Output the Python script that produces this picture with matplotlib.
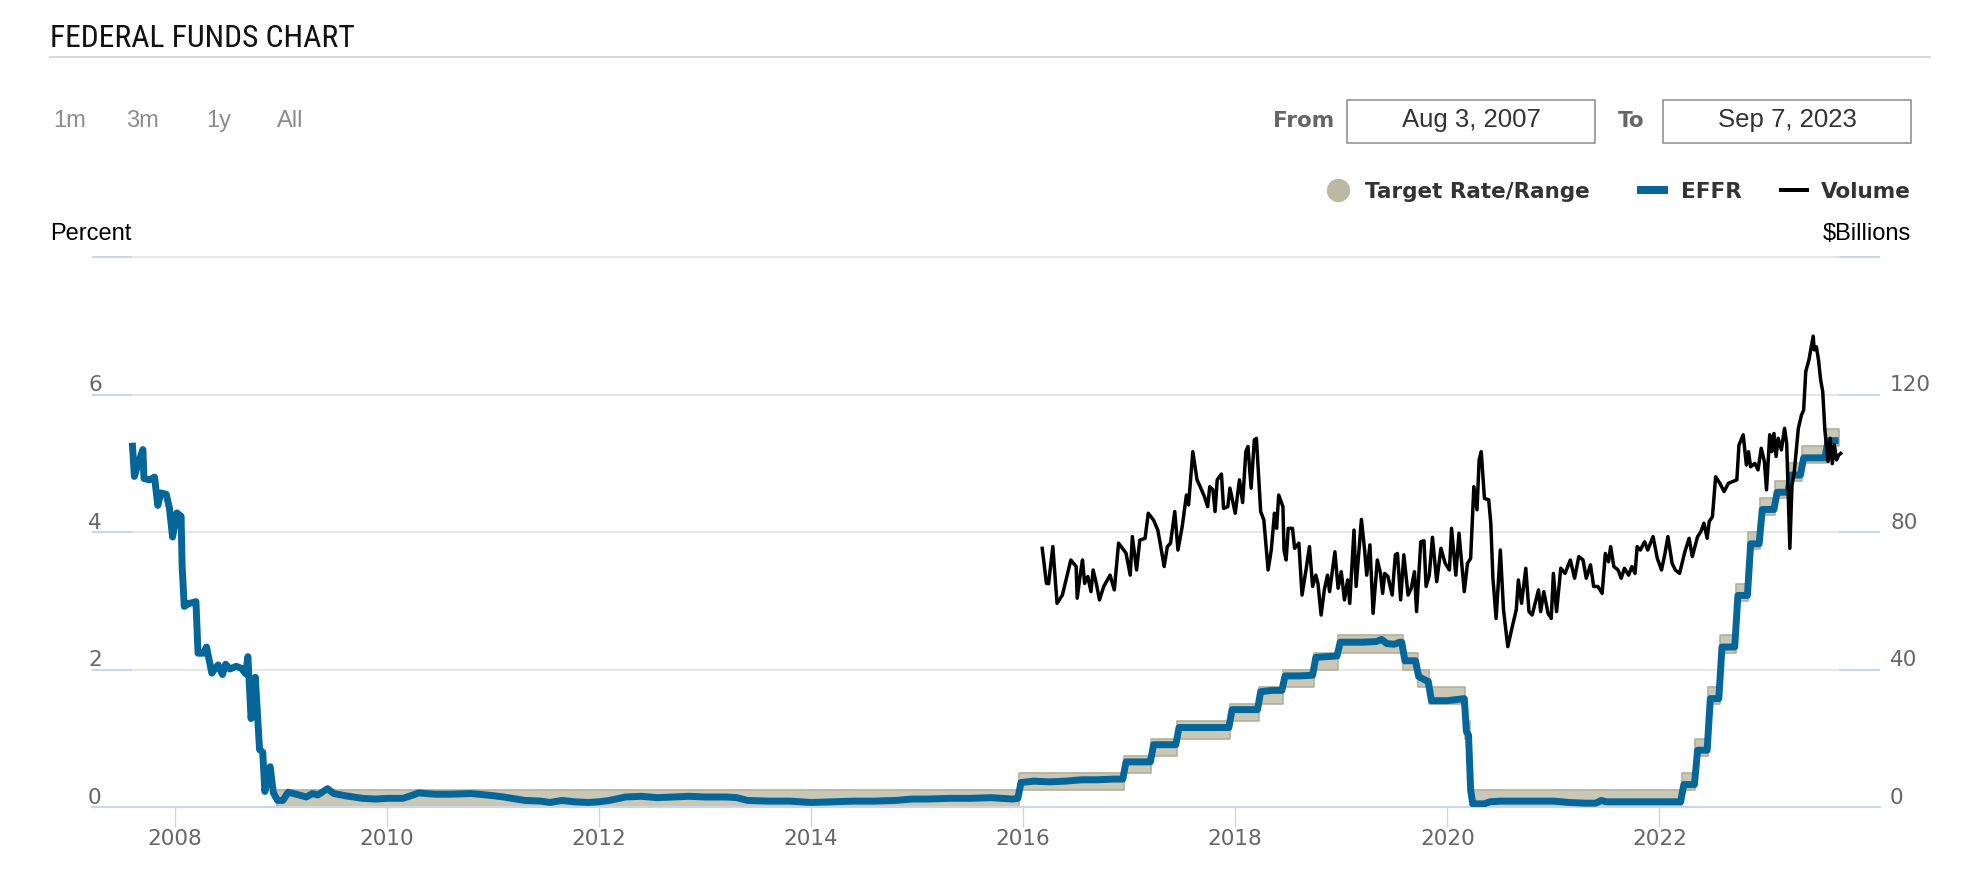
import matplotlib.pyplot as plt
from matplotlib.lines import Line2D
from matplotlib.patches import Rectangle
from matplotlib import transforms

# ---- data (decimal years) ----
effr_year = [2007.60, 2007.62, 2007.66, 2007.70, 2007.71, 2007.76, 2007.81, 2007.84, 2007.87, 2007.92,
             2007.95, 2007.98, 2008.02, 2008.06, 2008.07, 2008.09, 2008.13, 2008.20, 2008.22, 2008.27,
             2008.30, 2008.35, 2008.38, 2008.41, 2008.45, 2008.48, 2008.52, 2008.58, 2008.63, 2008.67,
             2008.69, 2008.72, 2008.76, 2008.80, 2008.83, 2008.85, 2008.90, 2008.93, 2008.97, 2009.02,
             2009.07, 2009.12, 2009.17, 2009.24, 2009.30, 2009.35, 2009.44, 2009.50, 2009.60, 2009.77,
             2009.90, 2010.00, 2010.15, 2010.25, 2010.30, 2010.45, 2010.60, 2010.80, 2011.00, 2011.10,
             2011.30, 2011.45, 2011.54, 2011.65, 2011.77, 2011.90, 2012.00, 2012.10, 2012.25, 2012.40,
             2012.55, 2012.70, 2012.85, 2013.00, 2013.20, 2013.30, 2013.40, 2013.60, 2013.80, 2014.00,
             2014.20, 2014.40, 2014.60, 2014.80, 2014.95, 2015.10, 2015.30, 2015.50, 2015.70, 2015.90,
             2015.95, 2015.98, 2016.10, 2016.25, 2016.40, 2016.55, 2016.70, 2016.85, 2016.94, 2016.97,
             2017.20, 2017.23, 2017.44, 2017.47, 2017.60, 2017.80, 2017.94, 2017.97, 2018.21, 2018.24,
             2018.35, 2018.44, 2018.47, 2018.60, 2018.73, 2018.76, 2018.96, 2018.99, 2019.20, 2019.33,
             2019.38, 2019.43, 2019.50, 2019.55, 2019.57, 2019.60, 2019.70, 2019.73, 2019.79, 2019.82,
             2019.85, 2020.00, 2020.16, 2020.18, 2020.20, 2020.22, 2020.24, 2020.30, 2020.35, 2020.40,
             2020.50, 2020.70, 2020.90, 2021.00, 2021.15, 2021.30, 2021.40, 2021.45, 2021.50, 2021.80,
             2022.00, 2022.20, 2022.23, 2022.33, 2022.36, 2022.45, 2022.48, 2022.56, 2022.59, 2022.71,
             2022.74, 2022.83, 2022.86, 2022.94, 2022.97, 2023.08, 2023.11, 2023.21, 2023.24, 2023.33,
             2023.36, 2023.56, 2023.59, 2023.69]
effr_rate = [5.30, 4.81, 5.02, 5.20, 4.78, 4.76, 4.80, 4.39, 4.57, 4.55,
             4.35, 3.93, 4.28, 4.23, 3.50, 2.92, 2.96, 2.99, 2.24, 2.24,
             2.33, 1.95, 2.02, 2.07, 1.93, 2.08, 2.01, 2.05, 2.02, 1.94,
             2.19, 1.29, 1.89, 0.84, 0.80, 0.23, 0.59, 0.21, 0.10, 0.10,
             0.22, 0.20, 0.18, 0.15, 0.20, 0.18, 0.27, 0.20, 0.17, 0.13,
             0.12, 0.13, 0.13, 0.18, 0.21, 0.19, 0.19, 0.20, 0.17, 0.15,
             0.10, 0.09, 0.07, 0.10, 0.08, 0.07, 0.08, 0.10, 0.15, 0.16,
             0.14, 0.15, 0.16, 0.15, 0.15, 0.14, 0.10, 0.09, 0.09, 0.07,
             0.08, 0.09, 0.09, 0.10, 0.12, 0.12, 0.13, 0.13, 0.14, 0.12,
             0.13, 0.36, 0.38, 0.37, 0.38, 0.40, 0.40, 0.41, 0.41, 0.66,
             0.66, 0.91, 0.91, 1.16, 1.16, 1.16, 1.16, 1.42, 1.42, 1.68,
             1.70, 1.70, 1.91, 1.91, 1.92, 2.18, 2.20, 2.40, 2.40, 2.41,
             2.44, 2.38, 2.37, 2.40, 2.40, 2.13, 2.13, 1.90, 1.85, 1.83,
             1.55, 1.55, 1.58, 1.10, 1.05, 0.25, 0.05, 0.05, 0.05, 0.08,
             0.09, 0.09, 0.09, 0.09, 0.07, 0.06, 0.06, 0.10, 0.08, 0.08,
             0.08, 0.08, 0.33, 0.33, 0.83, 0.83, 1.58, 1.58, 2.33, 2.33,
             3.08, 3.08, 3.83, 3.83, 4.33, 4.33, 4.58, 4.58, 4.83, 4.83,
             5.08, 5.08, 5.33, 5.33]

target_year = [2008.96, 2015.96, 2016.95, 2017.21, 2017.45, 2017.95, 2018.22, 2018.45, 2018.74,
               2018.97, 2019.58, 2019.72, 2019.83, 2020.17, 2020.21, 2022.21, 2022.34, 2022.46,
               2022.57, 2022.72, 2022.84, 2022.95, 2023.09, 2023.22, 2023.34, 2023.57, 2023.69]
target_low = [0.00, 0.25, 0.50, 0.75, 1.00, 1.25, 1.50, 1.75, 2.00,
              2.25, 2.00, 1.75, 1.50, 1.00, 0.00, 0.25, 0.75, 1.50,
              2.25, 3.00, 3.75, 4.25, 4.50, 4.75, 5.00, 5.25, 5.25]
target_high = [0.25, 0.50, 0.75, 1.00, 1.25, 1.50, 1.75, 2.00, 2.25,
               2.50, 2.25, 2.00, 1.75, 1.25, 0.25, 0.50, 1.00, 1.75,
               2.50, 3.25, 4.00, 4.50, 4.75, 5.00, 5.25, 5.50, 5.50]

vol_year = [2016.18, 2016.22, 2016.24, 2016.28, 2016.32, 2016.37, 2016.42, 2016.45, 2016.50, 2016.51,
            2016.54, 2016.56, 2016.58, 2016.61, 2016.64, 2016.66, 2016.69, 2016.72, 2016.76, 2016.82,
            2016.86, 2016.90, 2016.97, 2017.01, 2017.03, 2017.07, 2017.10, 2017.15, 2017.18, 2017.23,
            2017.27, 2017.29, 2017.33, 2017.36, 2017.39, 2017.43, 2017.46, 2017.50, 2017.54, 2017.56,
            2017.60, 2017.64, 2017.67, 2017.71, 2017.74, 2017.76, 2017.79, 2017.81, 2017.83, 2017.87,
            2017.89, 2017.93, 2017.95, 2018.00, 2018.04, 2018.07, 2018.10, 2018.12, 2018.15, 2018.18,
            2018.20, 2018.24, 2018.27, 2018.31, 2018.34, 2018.37, 2018.39, 2018.41, 2018.45, 2018.46,
            2018.48, 2018.50, 2018.54, 2018.56, 2018.60, 2018.63, 2018.67, 2018.70, 2018.73, 2018.76,
            2018.78, 2018.81, 2018.84, 2018.87, 2018.89, 2018.94, 2018.97, 2019.00, 2019.03, 2019.06,
            2019.08, 2019.12, 2019.14, 2019.17, 2019.19, 2019.22, 2019.24, 2019.27, 2019.30, 2019.34,
            2019.37, 2019.39, 2019.41, 2019.44, 2019.48, 2019.51, 2019.53, 2019.56, 2019.59, 2019.63,
            2019.66, 2019.69, 2019.71, 2019.75, 2019.78, 2019.80, 2019.83, 2019.86, 2019.90, 2019.94,
            2019.98, 2020.02, 2020.04, 2020.08, 2020.11, 2020.16, 2020.19, 2020.22, 2020.25, 2020.28,
            2020.30, 2020.32, 2020.35, 2020.39, 2020.41, 2020.43, 2020.46, 2020.50, 2020.53, 2020.57,
            2020.62, 2020.65, 2020.67, 2020.70, 2020.74, 2020.77, 2020.80, 2020.86, 2020.88, 2020.91,
            2020.95, 2020.98, 2021.00, 2021.03, 2021.07, 2021.11, 2021.16, 2021.20, 2021.24, 2021.28,
            2021.31, 2021.35, 2021.38, 2021.42, 2021.46, 2021.49, 2021.52, 2021.54, 2021.57, 2021.61,
            2021.64, 2021.67, 2021.71, 2021.74, 2021.77, 2021.79, 2021.82, 2021.86, 2021.89, 2021.94,
            2021.98, 2022.02, 2022.05, 2022.08, 2022.12, 2022.15, 2022.19, 2022.24, 2022.28, 2022.31,
            2022.36, 2022.39, 2022.42, 2022.45, 2022.47, 2022.50, 2022.53, 2022.57, 2022.61, 2022.65,
            2022.69, 2022.73, 2022.75, 2022.79, 2022.82, 2022.84, 2022.86, 2022.90, 2022.93, 2022.96,
            2022.99, 2023.01, 2023.04, 2023.06, 2023.08, 2023.10, 2023.12, 2023.15, 2023.18, 2023.20,
            2023.23, 2023.25, 2023.27, 2023.31, 2023.34, 2023.36, 2023.38, 2023.41, 2023.45, 2023.46,
            2023.48, 2023.50, 2023.52, 2023.54, 2023.56, 2023.59, 2023.61, 2023.63, 2023.65, 2023.67,
            2023.69, 2023.71]
vol_amount = [75.3, 65.1, 65.0, 75.8, 59.3, 61.7, 68.0, 71.9, 70.0, 60.8,
              68.0, 71.9, 65.1, 67.1, 62.7, 69.0, 65.1, 60.3, 64.2, 67.5,
              63.2, 76.8, 73.9, 67.5, 78.7, 69.0, 77.7, 78.2, 85.5, 83.5,
              80.6, 77.2, 70.0, 75.8, 76.8, 86.0, 74.8, 81.6, 90.8, 87.9,
              103.4, 95.2, 93.2, 90.3, 87.4, 93.2, 92.3, 86.0, 95.2, 96.9,
              86.9, 87.4, 92.8, 85.5, 95.2, 88.6, 103.4, 104.9, 92.8, 106.8,
              107.3, 86.0, 83.5, 69.0, 74.8, 85.5, 81.1, 90.8, 87.4, 74.8,
              71.9, 81.1, 81.1, 75.3, 76.8, 61.7, 69.5, 75.8, 64.2, 67.5,
              65.1, 55.9, 63.2, 67.5, 62.7, 74.3, 63.7, 68.5, 60.3, 66.1,
              59.3, 80.6, 64.2, 75.8, 83.7, 74.8, 67.5, 76.3, 56.4, 71.9,
              68.0, 62.2, 68.0, 67.1, 61.7, 73.4, 73.8, 60.3, 73.4, 61.7,
              63.7, 68.5, 56.9, 77.2, 77.5, 64.2, 67.5, 78.5, 65.6, 75.3,
              70.9, 69.0, 81.1, 67.5, 79.7, 62.7, 70.9, 72.4, 93.2, 86.5,
              101.0, 103.4, 89.8, 89.4, 82.6, 66.6, 54.9, 74.8, 57.4, 46.7,
              53.5, 57.4, 66.1, 59.3, 69.5, 56.9, 55.9, 63.2, 56.9, 62.7,
              56.4, 54.9, 68.0, 56.9, 69.5, 68.0, 71.9, 66.6, 72.9, 71.9,
              66.6, 70.5, 64.2, 64.2, 62.2, 73.8, 71.4, 75.8, 70.0, 69.0,
              66.6, 69.5, 67.5, 70.0, 68.0, 75.8, 74.8, 77.2, 74.8, 78.7,
              72.4, 69.0, 73.4, 78.7, 70.9, 69.0, 68.0, 74.3, 78.2, 72.9,
              78.7, 80.1, 82.6, 78.2, 83.1, 84.5, 96.1, 94.2, 91.8, 94.2,
              94.7, 95.2, 105.3, 108.3, 99.5, 103.4, 99.0, 100.0, 98.1, 104.4,
              100.5, 92.3, 108.3, 103.4, 108.7, 102.0, 107.3, 103.9, 110.2, 105.8,
              75.3, 93.7, 97.1, 110.2, 114.1, 115.5, 126.7, 130.1, 137.0, 133.0,
              133.9, 130.1, 124.3, 120.9, 109.7, 100.5, 107.3, 99.9, 105.3, 101.0,
              102.4, 102.9]

pct_ticks = [0, 2, 4, 6]
bil_ticks = [0, 40, 80, 120]
year_ticks = [2008, 2010, 2012, 2014, 2016, 2018, 2020, 2022]

W, H = 1961, 890
fig = plt.figure(figsize=(W / 100, H / 100), dpi=100)


def fx(x):
    return x / W


def fy(y):
    return 1 - y / H


grid_c = "#e6e6e6"
axis_c = "#ccd6eb"
label_c = "#666666"
effr_c = "#05669a"
band_c = "#c9c7b5"
band_edge = "#b3b19c"

ax1 = fig.add_axes([fx(92), fy(807.3), fx(1880) - fx(92), fy(257) - fy(807.3)])
ax2 = ax1.twinx()
ax1.set_xlim(2007.22, 2024.08)
ax1.set_ylim(0, 8)
ax2.set_ylim(0, 160)

# grid lines span the data range, light-blue stubs in the padding
x0, x1 = effr_year[0], effr_year[-1]
for g in pct_ticks[1:] + [8]:
    ax1.hlines(g, x0, x1, color=grid_c, lw=1.5, zorder=0, clip_on=False)
    ax1.hlines(g, 2007.22, x0, color=axis_c, lw=1.5, zorder=0, clip_on=False)
    ax1.hlines(g, x1, 2024.08, color=axis_c, lw=1.5, zorder=0, clip_on=False)

# target range band
ax1.fill_between(target_year, target_low, target_high, step="post",
                 facecolor=band_c, edgecolor=band_edge, lw=1.2, zorder=2)
# EFFR
ax1.plot(effr_year, effr_rate, color=effr_c, lw=5, solid_joinstyle="round",
         solid_capstyle="butt", zorder=3)
# volume
ax2.plot(vol_year, vol_amount, color="black", lw=2.5, solid_joinstyle="round", zorder=4)

for s in ["top", "left", "right"]:
    ax1.spines[s].set_visible(False)
    ax2.spines[s].set_visible(False)
ax2.spines["bottom"].set_visible(False)
ax1.spines["bottom"].set_color(axis_c)
ax1.spines["bottom"].set_linewidth(1.6)

ax1.set_xticks(year_ticks)
ax1.set_xticklabels([str(y) for y in year_ticks])
ax1.tick_params(axis="x", length=14.5, width=1.0, color=axis_c, labelcolor=label_c,
                labelsize=15.5, pad=1)
ax1.set_yticks([])
ax2.set_yticks([])

# y labels sit just above their grid lines
tr1 = transforms.offset_copy(transforms.blended_transform_factory(ax1.transAxes, ax1.transData),
                             fig=fig, y=3.5, units="dots")
for v in pct_ticks:
    ax1.text((88 - 92) / 1788, v, str(v), transform=tr1, ha="left", va="baseline",
             fontsize=15.5, color=label_c)
tr2 = transforms.offset_copy(transforms.blended_transform_factory(ax2.transAxes, ax2.transData),
                             fig=fig, y=3.5, units="dots")
for v in bil_ticks:
    ax2.text((1890 - 92) / 1788, v, str(v), transform=tr2, ha="left", va="baseline",
             fontsize=15.5, color=label_c)

# ---- header ----
fig.text(fx(50), fy(47), "FEDERAL FUNDS CHART", fontsize=22.8, color="#111111",
         family=["Roboto Condensed", "DejaVu Sans"], fontstretch="condensed", va="baseline")
fig.add_artist(Line2D([fx(50), fx(1930)], [fy(57), fy(57)], color="#d9d9d9", lw=1.5,
                      transform=fig.transFigure))

for xb, t in zip([53, 126, 206, 277], ["1m", "3m", "1y", "All"]):
    fig.text(fx(xb), fy(127), t, fontsize=17, color="#8c8c8c", family="Liberation Sans",
             va="baseline")

fig.text(fx(1273), fy(126.7), "From", fontsize=15.5, fontweight="bold", color=label_c,
         va="baseline")
fig.text(fx(1618), fy(126.7), "To", fontsize=15.5, fontweight="bold", color=label_c,
         va="baseline")
for bx0, bx1, t in [(1347, 1595, "Aug 3, 2007"), (1663, 1911, "Sep 7, 2023")]:
    fig.add_artist(Rectangle((fx(bx0), fy(143)), fx(bx1) - fx(bx0), fy(100) - fy(143),
                             fill=False, ec="#8a8a8a", lw=1.1, transform=fig.transFigure))
    fig.text(fx((bx0 + bx1) / 2), fy(127), t, fontsize=18.5, color="#333333",
             family="Liberation Sans", ha="center", va="baseline")

# legend
fig.add_artist(Line2D([fx(1338)], [fy(190)], marker="o", ms=15.8, color="#bab9a1",
                      mec="#bab9a1", transform=fig.transFigure))
fig.text(fx(1365), fy(197.5), "Target Rate/Range", fontsize=15.5, fontweight="bold",
         color="#333333", va="baseline")
fig.add_artist(Line2D([fx(1637), fx(1668)], [fy(190), fy(190)], color=effr_c, lw=5.8,
                      solid_capstyle="butt", transform=fig.transFigure))
fig.text(fx(1681), fy(197.5), "EFFR", fontsize=15.5, fontweight="bold",
         color="#333333", va="baseline")
fig.add_artist(Line2D([fx(1779), fx(1809)], [fy(190), fy(190)], color="black", lw=2.9,
                      solid_capstyle="butt", transform=fig.transFigure))
fig.text(fx(1821), fy(197.5), "Volume", fontsize=15.5, fontweight="bold",
         color="#333333", va="baseline")

fig.text(fx(50), fy(240), "Percent", fontsize=17, color="black", family="Liberation Sans",
         va="baseline")
fig.text(fx(1911), fy(240), "$Billions", fontsize=17, color="black", family="Liberation Sans",
         ha="right", va="baseline")

plt.savefig("out.png", dpi=100)
